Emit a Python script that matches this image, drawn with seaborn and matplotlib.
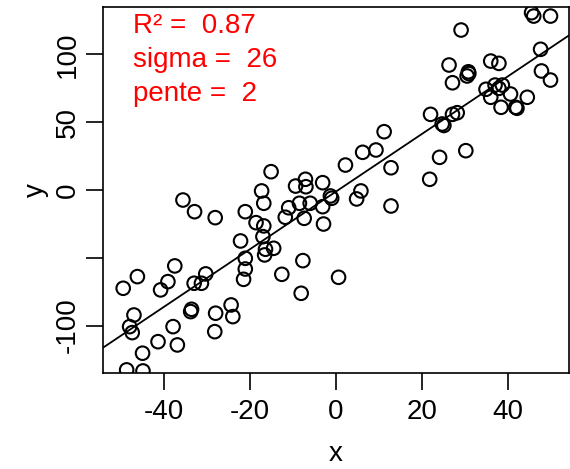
import numpy as np
import pandas as pd
import matplotlib
matplotlib.use("Agg")
import matplotlib.pyplot as plt
import seaborn as sns

# values
x_vals = [45.5, 46.0, 49.9, 29.1, 47.6, 26.3, 36.0, 37.9, 30.8, 30.5,
          30.9, 27.1, 47.8, 49.9, 34.9, 37.0, 38.7, 37.9, 36.0, 40.6,
          38.4, 41.8, 42.1, 44.5, 22.0, 27.1, 28.2, 24.7, 25.1, 30.2,
          24.1, 21.8, 11.2, 6.2, 9.3, 2.2, 12.8, 12.8, -15.1, -9.4,
          -7.1, -7.0, -3.1, -1.3, -1.0, 5.8, 4.8, -17.3, -16.8, -11.0,
          -8.5, -6.0, -3.1, -11.8, -7.4, -2.9, -18.6, -16.8, -17.0, -16.4,
          -16.6, -14.5, -7.7, -12.6, 0.6, -8.1, -35.6, -32.9, -28.1, -21.1,
          -22.2, -21.1, -21.1, -21.5, -37.5, -39.1, -40.8, -46.2, -49.5, -30.3,
          -33.0, -31.3, -33.6, -33.8, -28.0, -24.4, -24.0, -28.2, -47.0, -48.0,
          -47.4, -37.9, -41.4, -36.9, -45.0, -48.7, -44.9]
y_vals = [130.8, 128.3, 128.3, 118.0, 103.8, 92.2, 95.1, 93.4, 87.2, 84.1,
          85.9, 79.1, 87.8, 81.1, 74.3, 77.4, 77.4, 75.0, 68.4, 70.8,
          61.0, 61.0, 60.3, 68.4, 55.8, 55.8, 57.0, 48.7, 47.6, 29.0,
          24.1, 7.9, 43.0, 27.8, 29.5, 18.4, 16.4, -11.8, 13.5, 2.9,
          7.9, 2.4, 5.4, -4.4, -6.1, -0.7, -6.6, -0.7, -9.8, -13.1,
          -9.8, -9.8, -12.3, -20.1, -20.9, -25.1, -24.1, -26.5, -34.4, -43.7,
          -47.9, -43.0, -52.1, -62.2, -64.4, -76.2, -7.4, -16.0, -20.4, -16.0,
          -37.6, -50.4, -58.3, -65.9, -56.0, -67.6, -73.7, -63.9, -72.5, -61.9,
          -68.8, -68.8, -88.0, -89.7, -90.9, -84.8, -93.4, -104.5, -92.2, -100.8,
          -105.2, -100.8, -111.9, -114.3, -120.4, -132.7, -133.5]

x_ticks = [-40, -20, 0, 20, 40]
y_ticks = [-100, -50, 0, 50, 100]
y_tick_labels = ["-100", "", "0", "50", "100"]
stats_lines = ["R² =  0.87", "sigma =  26", "pente =  2"]

df = pd.DataFrame({"x": x_vals, "y": y_vals})

sns.set_style("ticks")
plt.rcParams['font.family'] = ['Liberation Sans', 'DejaVu Sans']
plt.rcParams['text.color'] = 'black'
plt.rcParams['axes.labelcolor'] = 'black'
plt.rcParams['xtick.color'] = 'black'
plt.rcParams['ytick.color'] = 'black'

fig = plt.figure(figsize=(5.7, 4.69), dpi=100)
ax = fig.add_axes([0.1807, 0.2047, 0.8175, 0.7804])
ax.set_xlim(-54.2, 54.2)
ax.set_ylim(-135, 135)

sns.scatterplot(data=df, x="x", y="y", ax=ax, s=95, facecolors="none",
                edgecolor="black", linewidth=1.5, zorder=3)
sns.regplot(data=df, x="x", y="y", ax=ax, scatter=False, ci=None, truncate=False,
            line_kws=dict(color="black", lw=1.3))
ax.set_xlim(-54.2, 54.2)
ax.set_ylim(-135, 135)

ax.set_xticks(x_ticks)
ax.set_xticklabels([str(t) for t in x_ticks])
ax.set_yticks(y_ticks)
ax.set_yticklabels(y_tick_labels, rotation=90, va="center")
ax.tick_params(axis="both", length=12, width=1.2, labelsize=20,
               color="black", labelcolor="black", direction="out")
ax.tick_params(axis="x", pad=7)
ax.tick_params(axis="y", pad=4)
for sp in ax.spines.values():
    sp.set_visible(True)
    sp.set_linewidth(1.2)
    sp.set_color("black")

ax.set_xlabel("x", fontsize=20, labelpad=11, color="black")
ax.set_ylabel("y", fontsize=20, labelpad=4, color="black")

for i, line in enumerate(stats_lines):
    ax.text(0.064, 0.928 - i * 0.093, line, transform=ax.transAxes, color="red",
            fontsize=20, va="baseline", ha="left")

fig.savefig("out.png", dpi=100)
